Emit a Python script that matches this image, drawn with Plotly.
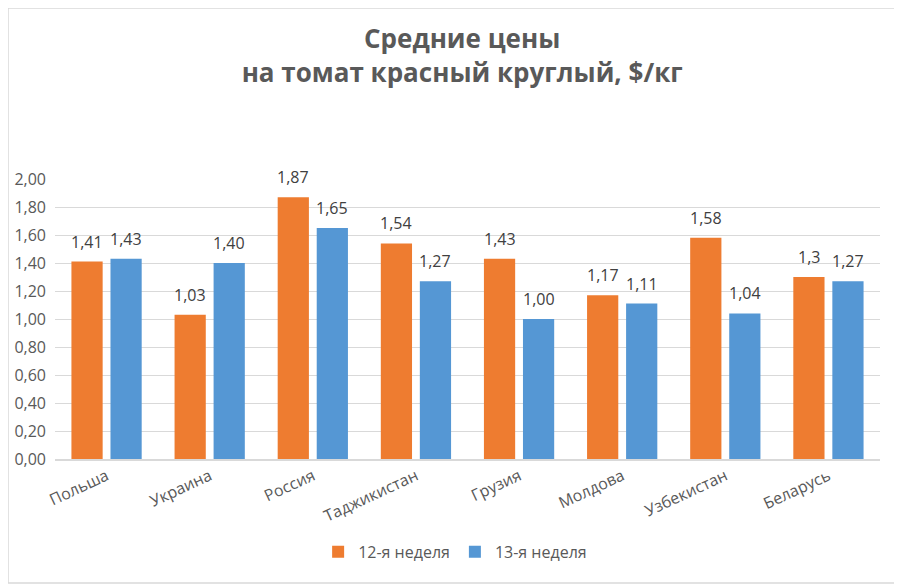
import plotly.graph_objects as go

categories = ["Польша", "Украина", "Россия", "Таджикистан", "Грузия", "Молдова", "Узбекистан", "Беларусь"]
week12 = [1.41, 1.03, 1.87, 1.54, 1.43, 1.17, 1.58, 1.30]
week13 = [1.43, 1.40, 1.65, 1.27, 1.00, 1.11, 1.04, 1.27]
labels12 = ["1,41", "1,03", "1,87", "1,54", "1,43", "1,17", "1,58", "1,3"]
labels13 = ["1,43", "1,40", "1,65", "1,27", "1,00", "1,11", "1,04", "1,27"]
series_names = ["12-я неделя", "13-я неделя"]
y_ticks = [0, 0.2, 0.4, 0.6, 0.8, 1.0, 1.2, 1.4, 1.6, 1.8, 2.0]
y_ticktext = ["0,00", "0,20", "0,40", "0,60", "0,80", "1,00", "1,20", "1,40", "1,60", "1,80", "2,00"]

FONT = "Open Sans"
TXT = "#595959"
LBL = "#404040"
W, H = 894, 576
ML, MR, MT, MB = 47, 22, 171, 125
BARGAP = 0.243

fig = go.Figure()
fig.add_trace(go.Bar(x=categories, y=week12, name=series_names[0],
                     marker=dict(color="#EE7C30", line=dict(width=0))))
fig.add_trace(go.Bar(x=categories, y=week13, name=series_names[1],
                     marker=dict(color="#5597D4", line=dict(width=0))))

offset = (1 - BARGAP) / 4
annotations = []
for i, (v, t) in enumerate(zip(week12, labels12)):
    annotations.append(dict(x=i - offset, y=v, xref="x", yref="y", text=t, showarrow=False,
                            yanchor="bottom", yshift=7, font=dict(family=FONT, size=16, color=LBL)))
for i, (v, t) in enumerate(zip(week13, labels13)):
    annotations.append(dict(x=i + offset, y=v, xref="x", yref="y", text=t, showarrow=False,
                            yanchor="bottom", yshift=7, font=dict(family=FONT, size=16, color=LBL)))

pw = W - ML - MR
ph = H - MT - MB
fig.add_shape(type="rect", xref="paper", yref="paper",
              x0=-ML / pw, x1=1 + (MR - 1) / pw,
              y0=(-MB + 1) / ph, y1=1 + MT / ph,
              line=dict(color="#D9D9D9", width=1.5), layer="below")

fig.update_layout(
    width=W, height=H,
    margin=dict(l=ML, r=MR, t=MT, b=MB, autoexpand=False),
    paper_bgcolor="white", plot_bgcolor="white",
    barmode="group", bargap=BARGAP, bargroupgap=0.2,
    title=dict(text="<b>Средние цены<br>на томат красный круглый, $/кг</b>",
               x=0.508, xanchor="center", xref="container", y=0.93, yanchor="top",
               font=dict(family=FONT, size=26, color=TXT)),
    font=dict(family=FONT, size=16, color=TXT),
    xaxis=dict(tickangle=-25, showgrid=False, showline=True, linecolor="#D9D9D9", linewidth=1.5,
               tickfont=dict(family=FONT, size=16, color=TXT), ticks=""),
    yaxis=dict(range=[0, 2.0], tickvals=y_ticks, ticktext=y_ticktext, showgrid=True,
               gridcolor="#D9D9D9", gridwidth=1, zeroline=False, showline=False,
               tickfont=dict(family=FONT, size=16, color=TXT), ticks="", ticklabelstandoff=8),
    legend=dict(orientation="h", x=0.485, xanchor="center", y=-0.332, yanchor="middle",
                font=dict(family=FONT, size=16, color=TXT), traceorder="normal",
                itemwidth=30),
    annotations=annotations,
)

fig.write_html("out.html")
